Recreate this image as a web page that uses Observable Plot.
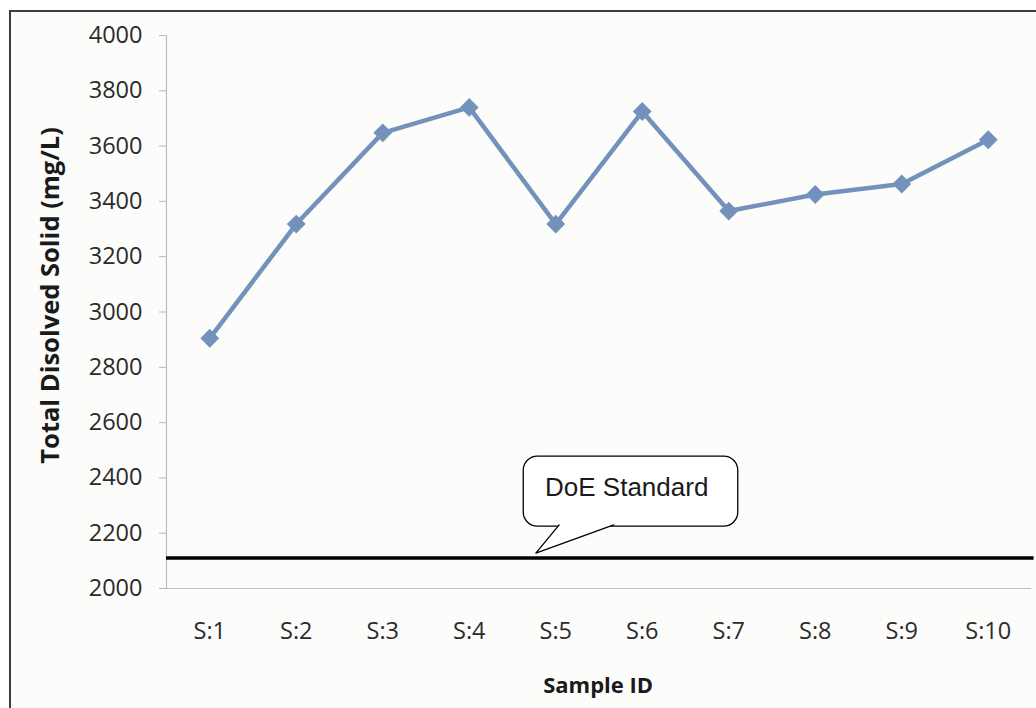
<!DOCTYPE html>
<html>
<head>
<meta charset="utf-8">
<script src="https://cdn.jsdelivr.net/npm/d3@7"></script>
<script src="https://cdn.jsdelivr.net/npm/@observablehq/plot@0.6"></script>
<style>
  html, body { margin: 0; padding: 0; background: #ffffff; }
  body { width: 1036px; height: 708px; position: relative; overflow: hidden; }
  #frame {
    position: absolute; left: 9px; top: 10px; width: 1040px; height: 710px;
    border-left: 2px solid #3d3d3d; border-top: 2px solid #3d3d3d;
    background: #fcfcfa; box-sizing: border-box;
  }
  #chart { position: absolute; left: 0; top: 0; }
  #chart svg { background: transparent; }
  #chart [aria-label="y-axis"] line,
  #chart [aria-label="y-axis tick"] path { stroke: #b8b8b8; }
  #chart [aria-label="x-axis"] text,
  #chart [aria-label="y-axis"] text,
  #chart [aria-label="x-axis tick label"] text,
  #chart [aria-label="y-axis tick label"] text { font-size: 23.5px; }
</style>
</head>
<body>
<div id="frame"></div>
<div id="chart"></div>
<script>
// Total dissolved solids per sample
const samples = ["S:1", "S:2", "S:3", "S:4", "S:5", "S:6", "S:7", "S:8", "S:9", "S:10"];
const tds = [2905, 3318, 3648, 3740, 3318, 3725, 3365, 3425, 3463, 3623];
// DoE standard limit (mg/L)
const standard = [2110];
const yTicks = [2000, 2200, 2400, 2600, 2800, 3000, 3200, 3400, 3600, 3800, 4000];

const data = samples.map((s, i) => ({ i: i + 1, sample: s, tds: tds[i] }));

const lineColor = "#7392bb";
const fontTicks = "'Open Sans', 'Noto Sans', sans-serif";

// Callout box for the standard line, placed in data units
const doe = standard[0];
const box = { x1: 4.63, x2: 7.11, y1: 2224, y2: 2477 };
const tail = [
  { x: 5.04, y: box.y1 + 6 },
  { x: 4.77, y: doe + 18 },
  { x: 5.67, y: box.y1 + 6 }
];

const chart = Plot.plot({
  width: 1036,
  height: 708,
  marginLeft: 166,
  marginRight: 5,
  marginTop: 35,
  marginBottom: 120,
  style: { fontFamily: fontTicks, fontSize: "23.5px", color: "#2b2b2b", background: "transparent" },
  x: {
    type: "linear",
    domain: [0.5, 10.5],
    ticks: data.map(d => d.i),
    tickFormat: d => samples[d - 1],
    tickSize: 0,
    tickPadding: 34,
    label: null
  },
  y: {
    domain: [2000, 4000],
    ticks: yTicks,
    tickFormat: d => String(d),
    tickSize: 7,
    tickPadding: 17,
    label: null
  },
  marks: [
    // axis lines
    Plot.ruleY([2000], { x1: 0.5, x2: 10.5, stroke: "#bdbdbd", strokeWidth: 1.2 }),
    Plot.ruleX([0.5], { y1: 2000, y2: 4000, stroke: "#bdbdbd", strokeWidth: 1.2 }),
    // standard line
    Plot.ruleY(standard, { x1: 0.5, x2: 10.53, stroke: "#000", strokeWidth: 3.5 }),
    // series
    Plot.line(data, { x: "i", y: "tds", stroke: lineColor, strokeWidth: 4.5 }),
    Plot.dot(data, { x: "i", y: "tds", symbol: "diamond2", r: 8.5, fill: lineColor, stroke: "none" }),
    // callout
    Plot.rect([box], { x1: "x1", x2: "x2", y1: "y1", y2: "y2", rx: 14, fill: "#fff", stroke: "#000", strokeWidth: 1.3 }),
    Plot.line(tail, { x: "x", y: "y", fill: "#fff", stroke: "#000", strokeWidth: 1.3 }),
    Plot.text(["DoE Standard"], {
      x: (box.x1 + box.x2) / 2 - 0.05, y: (box.y1 + box.y2) / 2 + 14,
      fontFamily: "'Liberation Sans', Arial, sans-serif", fontSize: 26, fill: "#1a1a1a"
    }),
    // axis titles
    Plot.text(["Sample ID"], {
      x: 5.49, y: 2000, dy: 97, fontWeight: "bold", fontSize: 22, fill: "#1a1a1a",
      fontFamily: fontTicks
    }),
    Plot.text(["Total Disolved Solid (mg/L)"], {
      x: 0.5, y: 3060, dx: -116, rotate: -90, fontWeight: "bold", fontSize: 25.5, fill: "#1a1a1a",
      fontFamily: fontTicks
    })
  ]
});

document.getElementById("chart").appendChild(chart);
</script>
</body>
</html>
